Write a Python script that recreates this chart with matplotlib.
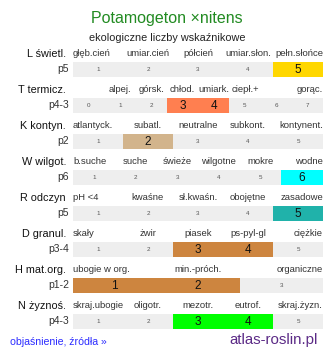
import matplotlib
matplotlib.use("Agg")
import matplotlib.pyplot as plt
from matplotlib.patches import Rectangle

plt.rcParams['font.family'] = ['Liberation Sans', 'DejaVu Sans']

title = "Potamogeton \u00d7nitens"
subtitle = "ekologiczne liczby wskaźnikowe"

row_names = ["L świetl.", "T termicz.", "K kontyn.", "W wilgot.",
             "R odczyn", "D granul.", "H mat.org.", "N żyznoś."]
row_codes = ["p5", "p4-3", "p2", "p6", "p5", "p3-4", "p1-2", "p4-3"]

# cell numbers shown in each scale
row_cells = [
    [1, 2, 3, 4, 5],
    [0, 1, 2, 3, 4, 5, 6, 7],
    [1, 2, 3, 4, 5],
    [1, 2, 3, 4, 5, 6],
    [1, 2, 3, 4, 5],
    [1, 2, 3, 4, 5],
    [1, 2, 3],
    [1, 2, 3, 4, 5],
]

# category names above the cells ("" = no label)
row_labels = [
    ["głęb.cień", "umiar.cień", "półcień", "umiar.słon.", "pełn.słońce"],
    ["", "alpej.", "górsk.", "chłod.", "umiark.", "ciepł.+", "", "gorąc."],
    ["atlantyck.", "subatl.", "neutralne", "subkont.", "kontynent."],
    ["b.suche", "suche", "świeże", "wilgotne", "mokre", "wodne"],
    ["pH <4", "kwaśne", "sł.kwaśn.", "obojętne", "zasadowe"],
    ["skały", "żwir", "piasek", "ps-pyl-gl", "ciężkie"],
    ["ubogie w org.", "min.-próch.", "organiczne"],
    ["skraj.ubogie", "oligotr.", "mezotr.", "eutrof.", "skraj.żyzn."],
]

# highlighted values per row
row_values = [[5], [3, 4], [2], [6], [5], [3, 4], [1, 2], [3, 4]]
row_colors = ["#ffd700", "#ff7f50", "#d2b48c", "#00ffff",
              "#20b2aa", "#cd853f", "#cd853f", "#00ff00"]

W, H = 334, 358
fig = plt.figure(figsize=(W / 100, H / 100), dpi=100)
ax = fig.add_axes([0, 0, 1, 1])
ax.set_xlim(0, W)
ax.set_ylim(H, 0)
ax.axis("off")

ax.text(167, 19, title, ha="center", va="center", fontsize=11.5, color="#228b22")
ax.text(167, 38, subtitle, ha="center", va="center", fontsize=7.8, color="#222222")

x0, x1 = 73, 323
bar_h = 15
for i in range(len(row_names)):
    top = 62 + 36 * i
    cells = row_cells[i]
    n = len(cells)
    cw = (x1 - x0) / n
    ax.add_patch(Rectangle((x0, top), x1 - x0, bar_h, facecolor="#eeeeee", edgecolor="none"))

    hi = [cells.index(v) for v in row_values[i]]
    ax.add_patch(Rectangle((x0 + min(hi) * cw, top), (max(hi) - min(hi) + 1) * cw, bar_h,
                           facecolor=row_colors[i], edgecolor="none"))

    for k, c in enumerate(cells):
        cx = x0 + (k + 0.5) * cw
        if k in hi:
            ax.text(cx, top + bar_h / 2 + 0.5, str(c), ha="center", va="center",
                    fontsize=8.5, color="#111111")
        else:
            ax.text(cx, top + bar_h / 2, str(c), ha="center", va="center",
                    fontsize=4.5, color="#555555")

    labels = row_labels[i]
    for k, lab in enumerate(labels):
        if not lab:
            continue
        ly = top - 8
        if k == 0:
            ax.text(x0, ly, lab, ha="left", va="center", fontsize=6.8, color="#333333")
        elif k == n - 1:
            ax.text(x1, ly, lab, ha="right", va="center", fontsize=6.8, color="#333333")
        else:
            ax.text(x0 + (k + 0.5) * cw, ly, lab, ha="center", va="center",
                    fontsize=6.8, color="#333333")

    ax.text(66, top - 8, row_names[i], ha="right", va="center", fontsize=7.8, color="#111111")
    ax.text(69, top + bar_h / 2, row_codes[i], ha="right", va="center", fontsize=7.5,
            color="#333333")

ax.text(10, 342, "objaśnienie, źródła »", ha="left", va="center", fontsize=7.6,
        color="#2b2bff")
ax.text(318, 340, "atlas-roslin.pl", ha="right", va="center", fontsize=10.8,
        color="#5b2a86")

fig.savefig("out.png", dpi=100)
